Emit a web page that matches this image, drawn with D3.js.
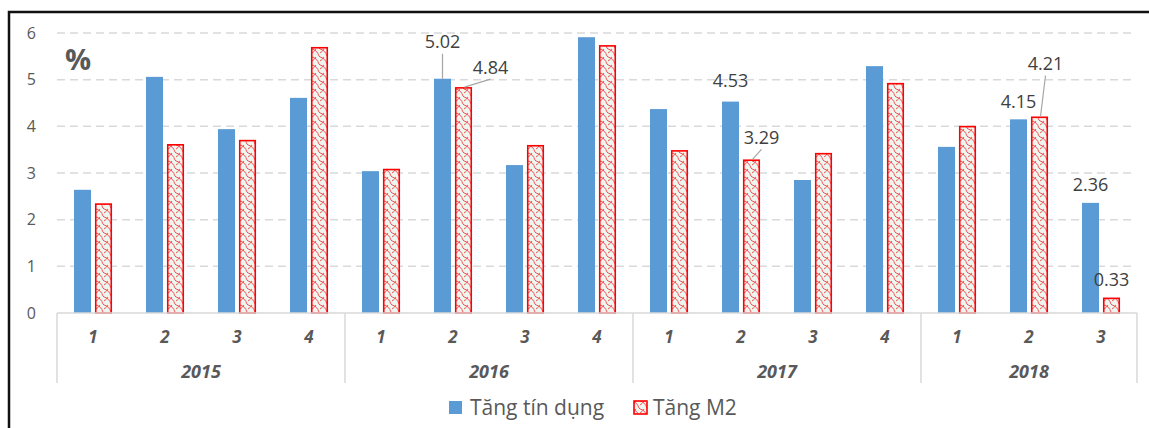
<!DOCTYPE html>
<html>
<head>
<meta charset="utf-8">
<script src="https://cdn.jsdelivr.net/npm/d3@7"></script>
<style>
  html, body { margin: 0; padding: 0; background: #fff; }
  svg { display: block; font-family: "Open Sans", "DejaVu Sans", sans-serif; }
</style>
</head>
<body>
<svg id="chart" width="1149" height="428"></svg>
<script>
// Quarterly growth (%) of credit and M2 money supply, 2015–2018
const years = ["2015", "2016", "2017", "2018"];
const quarters = [
  ["1", "2", "3", "4"],
  ["1", "2", "3", "4"],
  ["1", "2", "3", "4"],
  ["1", "2", "3"]
];
const creditGrowth = [2.64, 5.06, 3.94, 4.61, 3.04, 5.02, 3.17, 5.91, 4.37, 4.53, 2.85, 5.29, 3.56, 4.15, 2.36];
const m2Growth     = [2.35, 3.62, 3.71, 5.70, 3.09, 4.84, 3.60, 5.74, 3.49, 3.29, 3.43, 4.93, 4.01, 4.21, 0.33];
const seriesNames = ["Tăng tín dụng", "Tăng M2"];
const yTicks = [0, 1, 2, 3, 4, 5, 6];

const svg = d3.select("#chart");
const textColor = "#595959";
const blue = "#5b9bd5";
const red = "#ff0000";

// flatten year/quarter into one category list
const cats = [];
quarters.forEach((qs, yi) => qs.forEach(q => cats.push({ year: years[yi], q, key: years[yi] + "-" + q })));

const plot = { left: 57, right: 1137, top: 33, bottom: 313 };

const x = d3.scaleBand().domain(cats.map(c => c.key)).range([plot.left, plot.right]).paddingInner(0).paddingOuter(0);
const xInner = d3.scaleBand().domain(seriesNames)
  .range([x.bandwidth() * 0.236, x.bandwidth() * 0.764]).paddingInner(0.19).paddingOuter(0);
const y = d3.scaleLinear().domain([0, 6]).range([plot.bottom, plot.top]);

// hatch pattern for the M2 bars
const defs = svg.append("defs");
const pat = defs.append("pattern").attr("id", "m2pat").attr("patternUnits", "userSpaceOnUse")
  .attr("width", 8).attr("height", 8);
pat.append("rect").attr("width", 8).attr("height", 8).attr("fill", "#edf5f1");
pat.append("path").attr("d", "M0,1 Q5,2 7,8 M0,5 Q2,4 4,1 M7,0 Q7.5,0.5 8,1")
  .attr("fill", "none").attr("stroke", "#f04040").attr("stroke-width", 0.9);

// outer frame
svg.append("rect").attr("x", 9).attr("y", 12).attr("width", 1160).attr("height", 440)
  .attr("fill", "none").attr("stroke", "#111").attr("stroke-width", 2.5);

// gridlines
svg.append("g").selectAll("line").data(yTicks.filter(t => t > 0)).join("line")
  .attr("x1", plot.left).attr("x2", 1135)
  .attr("y1", d => y(d)).attr("y2", d => y(d))
  .attr("stroke", "#d9d9d9").attr("stroke-width", 1.5).attr("stroke-dasharray", "8,5");

// y axis labels
const yAxis = d3.axisLeft(y).tickValues(yTicks).tickSize(0).tickPadding(0).tickFormat(d3.format("d"));
const yg = svg.append("g").attr("transform", "translate(36,0)").call(yAxis);
yg.select(".domain").remove();
yg.selectAll("text").attr("fill", textColor).attr("font-size", 16).attr("font-family", "Open Sans");

svg.append("text").attr("x", 65).attr("y", 70).text("%")
  .attr("fill", textColor).attr("font-size", 29).attr("font-weight", "bold");

// bars
const barG = svg.append("g");
cats.forEach((c, i) => {
  const x0 = x(c.key);
  barG.append("rect")
    .attr("x", x0 + xInner(seriesNames[0])).attr("width", xInner.bandwidth())
    .attr("y", y(creditGrowth[i])).attr("height", y(0) - y(creditGrowth[i]))
    .attr("fill", blue);
  barG.append("rect")
    .attr("x", x0 + xInner(seriesNames[1]) + 0.75).attr("width", xInner.bandwidth() - 1.5)
    .attr("y", y(m2Growth[i]) + 0.75).attr("height", y(0) - y(m2Growth[i]) - 0.75)
    .attr("fill", "url(#m2pat)").attr("stroke", red).attr("stroke-width", 1.6);
});

// category axis: baseline, group separators, quarter and year labels
const axisG = svg.append("g");
axisG.append("line").attr("x1", plot.left).attr("x2", plot.right)
  .attr("y1", y(0)).attr("y2", y(0)).attr("stroke", "#d9d9d9").attr("stroke-width", 1.5);
const groupBounds = [];
let idx = 0;
quarters.forEach((qs, yi) => {
  const first = cats[idx].key, last = cats[idx + qs.length - 1].key;
  groupBounds.push({ year: years[yi], x0: x(first), x1: x(last) + x.bandwidth() });
  idx += qs.length;
});
const seps = [groupBounds[0].x0].concat(groupBounds.map(g => g.x1));
axisG.selectAll("line.sep").data(seps).join("line").attr("class", "sep")
  .attr("x1", d => d).attr("x2", d => d).attr("y1", y(0)).attr("y2", 383)
  .attr("stroke", "#d9d9d9").attr("stroke-width", 1.5);
axisG.selectAll("text.q").data(cats).join("text").attr("class", "q")
  .attr("x", d => x(d.key) + x.bandwidth() / 2).attr("y", 343)
  .attr("text-anchor", "middle").attr("fill", textColor)
  .attr("font-size", 17).attr("font-weight", "bold").attr("font-style", "italic")
  .text(d => d.q);
axisG.selectAll("text.yr").data(groupBounds).join("text").attr("class", "yr")
  .attr("x", d => (d.x0 + d.x1) / 2).attr("y", 378)
  .attr("text-anchor", "middle").attr("fill", textColor)
  .attr("font-size", 18).attr("font-weight", "bold").attr("font-style", "italic")
  .text(d => d.year);

// value labels: [category index, series, dx, dy from bar top, leader line]
const labelSpecs = [
  [5, 0, 0, -37, true], [5, 1, 27, -20, true],
  [9, 0, 0, -21, false], [9, 1, 10, -22, true],
  [13, 0, 0, -18, false], [13, 1, 6, -53, true],
  [14, 0, 0, -18, false], [14, 1, 0, -18, false]
];
const labG = svg.append("g");
labelSpecs.forEach(([i, s, dx, dy, leader]) => {
  const v = s === 0 ? creditGrowth[i] : m2Growth[i];
  const cx = x(cats[i].key) + xInner(seriesNames[s]) + xInner.bandwidth() / 2;
  const top = y(v);
  const lx = cx + dx, ly = top + dy;
  if (leader) {
    labG.append("line").attr("x1", lx).attr("y1", ly + 12).attr("x2", cx + (s === 1 ? 1 : 0)).attr("y2", top)
      .attr("stroke", "#a6a6a6").attr("stroke-width", 1.2);
  }
  labG.append("text").attr("x", lx).attr("y", ly + 6.5).attr("text-anchor", "middle")
    .attr("fill", "#404040").attr("font-size", 18).text(d3.format(".2f")(v));
});

// legend
const lg = svg.append("g");
lg.append("rect").attr("x", 449).attr("y", 401).attr("width", 13).attr("height", 13).attr("fill", blue);
lg.append("text").attr("x", 470).attr("y", 415).attr("fill", textColor).attr("font-size", 21).text(seriesNames[0]);
lg.append("rect").attr("x", 634).attr("y", 401).attr("width", 13).attr("height", 13)
  .attr("fill", "url(#m2pat)").attr("stroke", red).attr("stroke-width", 1.6);
lg.append("text").attr("x", 653).attr("y", 415).attr("fill", textColor).attr("font-size", 21).text(seriesNames[1]);
</script>
</body>
</html>
